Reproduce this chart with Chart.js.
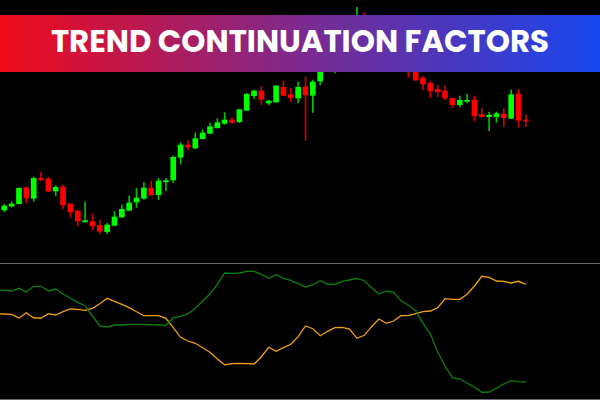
<!DOCTYPE html>
<html>
<head>
<meta charset="utf-8">
<script src="https://cdn.jsdelivr.net/npm/chart.js@4.4.1/dist/chart.umd.min.js"></script>
<style>
  html, body { margin:0; padding:0; background:#000; width:600px; height:400px; overflow:hidden; }
  #wrap { position:relative; width:600px; height:400px; background:#000; }
  #main { position:absolute; left:0; top:0; }
  #sep { position:absolute; left:0; top:263px; width:600px; height:1px; background:#6e6e6e; }
  #ind { position:absolute; left:0; top:264px; }
  #bottom { position:absolute; left:0; top:399px; width:600px; height:1px; background:#6e6e6e; }
  #banner { position:absolute; left:0; top:15px; width:600px; height:57px; z-index:5;
    background:linear-gradient(90deg,#f00a1a 0%,#7d2a8e 50%,#1746ef 100%);
    display:flex; align-items:center; justify-content:center; }
  #title { font-family: Poppins, Inter, "Open Sans", sans-serif; font-weight:700; font-size:32px;
    color:#fff; white-space:nowrap; display:inline-block; line-height:1; transform-origin:center center; }
</style>
</head>
<body>
<div id="wrap">
  <canvas id="main" width="600" height="263"></canvas>
  <div id="sep"></div>
  <canvas id="ind" width="600" height="135"></canvas>
  <div id="bottom"></div>
  <div id="banner"><span id="title">TREND CONTINUATION FACTORS</span></div>
</div>
<script>
// ---- price data (OHLC) ----
const open = [1.10520,1.10560,1.10583,1.10743,1.10637,1.10837,1.10830,1.10710,1.10750,1.10580,
1.10510,1.10403,1.10403,1.10367,1.10303,1.10367,1.10450,1.10517,1.10600,1.10637,
1.10740,1.10673,1.10803,1.10820,1.11047,1.11170,1.11140,1.11233,1.11287,1.11343,
1.11387,1.11420,1.11403,1.11517,1.11663,1.11710,1.11590,1.11600,1.11747,1.11673,
1.11640,1.11750,1.11667,1.11810,1.12000,1.12100,1.12220,1.12340,1.12280,1.12440,
1.12320,1.12220,1.12300,1.12140,1.12070,1.12020,1.11940,1.11840,1.11787,1.11727,
1.11710,1.11637,1.11573,1.11607,1.11620,1.11473,1.11453,1.11453,1.11480,1.11437,
1.11680,1.11420];
const high = [1.10577,1.10603,1.10740,1.10750,1.10850,1.10900,1.10847,1.10763,1.10770,1.10585,
1.10515,1.10600,1.10480,1.10420,1.10387,1.10505,1.10570,1.10660,1.10737,1.10793,
1.10810,1.10837,1.10837,1.11060,1.11193,1.11213,1.11293,1.11323,1.11390,1.11433,
1.11493,1.11443,1.11530,1.11687,1.11720,1.11757,1.11615,1.11763,1.11810,1.11737,
1.11800,1.11847,1.11820,1.12040,1.12160,1.12260,1.12400,1.12420,1.12547,1.12493,
1.12380,1.12340,1.12320,1.12180,1.12120,1.12060,1.11980,1.11853,1.11810,1.11767,
1.11763,1.11640,1.11660,1.11680,1.11660,1.11537,1.11500,1.11500,1.11533,1.11720,
1.11727,1.11470];
const low = [1.10503,1.10547,1.10580,1.10590,1.10607,1.10810,1.10703,1.10663,1.10530,1.10450,
1.10360,1.10397,1.10320,1.10283,1.10283,1.10360,1.10445,1.10510,1.10547,1.10627,
1.10665,1.10623,1.10713,1.10793,1.10980,1.11120,1.11130,1.11230,1.11283,1.11337,
1.11377,1.11387,1.11393,1.11513,1.11633,1.11573,1.11573,1.11597,1.11663,1.11603,
1.11590,1.11217,1.11497,1.11770,1.11960,1.11890,1.12170,1.12240,1.12250,1.12290,
1.12180,1.12160,1.12100,1.12020,1.11940,1.11847,1.11813,1.11720,1.11643,1.11653,
1.11620,1.11543,1.11550,1.11590,1.11410,1.11450,1.11313,1.11397,1.11353,1.11433,
1.11347,1.11353];
const close = [1.10560,1.10580,1.10737,1.10640,1.10837,1.10823,1.10710,1.10747,1.10570,1.10500,
1.10410,1.10410,1.10360,1.10307,1.10370,1.10450,1.10527,1.10590,1.10640,1.10740,
1.10670,1.10810,1.10810,1.11047,1.11170,1.11150,1.11233,1.11290,1.11353,1.11393,
1.11420,1.11397,1.11523,1.11677,1.11710,1.11627,1.11610,1.11760,1.11667,1.11643,
1.11747,1.11670,1.11800,1.12000,1.12120,1.12220,1.12340,1.12280,1.12440,1.12320,
1.12220,1.12300,1.12140,1.12070,1.11980,1.11920,1.11820,1.11780,1.11710,1.11703,
1.11640,1.11573,1.11617,1.11613,1.11463,1.11453,1.11467,1.11483,1.11443,1.11673,
1.11417,1.11410];

// ---- indicator data (bar -1 .. 71) ----
const tcfStart = -1;
const tcfGreen = [109,108.7,108,110.7,107,112.7,112.7,108,110,105,100.7,96.7,93.3,83,73,72,74,74,74.7,74.7,
74.7,74.3,74,73.7,81.3,82.7,85.3,90.7,98,105,114.7,126,125.7,126,127.7,127.7,124.7,120.7,124.3,120.7,
118.7,115.3,112,114,118.3,115,114.7,117.7,119,120.7,118.3,111.3,105,108,106.7,98.3,94,88.3,75.7,65,
47.3,32.7,21.3,20,16,11.7,6.7,7,10.7,15,18.3,17.3,17];
const tcfOrange = [85.3,85,84.7,81,86.3,81,81,85.3,84,87.3,90,89.7,88.7,90.7,95.3,100.7,97.7,94.7,91.3,87.3,
83.3,83.3,83.3,80.7,71.3,61.7,58,55.7,51.3,46.7,40,34.3,35.3,35.7,35.3,35,42.3,51.7,47.7,51.3,
54.7,62.3,73,70.3,63.3,67.7,71.3,71.7,70,60.7,63.7,72.3,80,75.7,78,83.3,83.3,85.3,87.3,88,
91.3,100.3,99.7,99.7,104.7,113,122.7,121.7,118,117.7,116,117.7,114.7];

const bullBody = '#00ff00', bearBody = '#ff0000';
const bullWick = '#00c000', bearWick = '#d00000';
const xMin = -0.585, xMax = 81.09;

const idx = open.map((_, i) => i);
const isBull = i => close[i] >= open[i];

new Chart(document.getElementById('main'), {
  type: 'bar',
  data: {
    datasets: [
      {
        label: 'Body',
        data: idx.map(i => ({ x: i, y: [open[i], close[i]] })),
        backgroundColor: idx.map(i => isBull(i) ? bullBody : bearBody),
        barThickness: 5, minBarLength: 1, grouped: false, borderWidth: 0
      },
      {
        label: 'Wick',
        data: idx.map(i => ({ x: i, y: [low[i], high[i]] })),
        backgroundColor: idx.map(i => isBull(i) ? bullWick : bearWick),
        barThickness: 1, grouped: false, borderWidth: 0
      }
    ]
  },
  options: {
    responsive: false, animation: false, maintainAspectRatio: false,
    layout: { padding: 0 },
    plugins: { legend: { display: false }, tooltip: { enabled: false } },
    scales: {
      x: { type: 'linear', display: false, min: xMin, max: xMax, offset: false },
      y: { display: false, min: 1.0999, max: 1.1262 }
    }
  }
});

new Chart(document.getElementById('ind'), {
  type: 'line',
  data: {
    datasets: [
      { label: 'TCF+', data: tcfGreen.map((v, i) => ({ x: i + tcfStart, y: v })),
        borderColor: '#0c800c', borderWidth: 1.3, pointRadius: 0, tension: 0, fill: false },
      { label: 'TCF-', data: tcfOrange.map((v, i) => ({ x: i + tcfStart, y: v })),
        borderColor: '#f0a010', borderWidth: 1.3, pointRadius: 0, tension: 0, fill: false }
    ]
  },
  options: {
    responsive: false, animation: false, maintainAspectRatio: false,
    layout: { padding: 0 },
    plugins: { legend: { display: false }, tooltip: { enabled: false } },
    scales: {
      x: { type: 'linear', display: false, min: xMin, max: xMax },
      y: { display: false, min: 0, max: 135 }
    }
  }
});

// fit banner title width
const t = document.getElementById('title');
const w = t.getBoundingClientRect().width;
t.style.transform = 'translateY(-3px) scaleX(' + (498 / w) + ')';
</script>
</body>
</html>
